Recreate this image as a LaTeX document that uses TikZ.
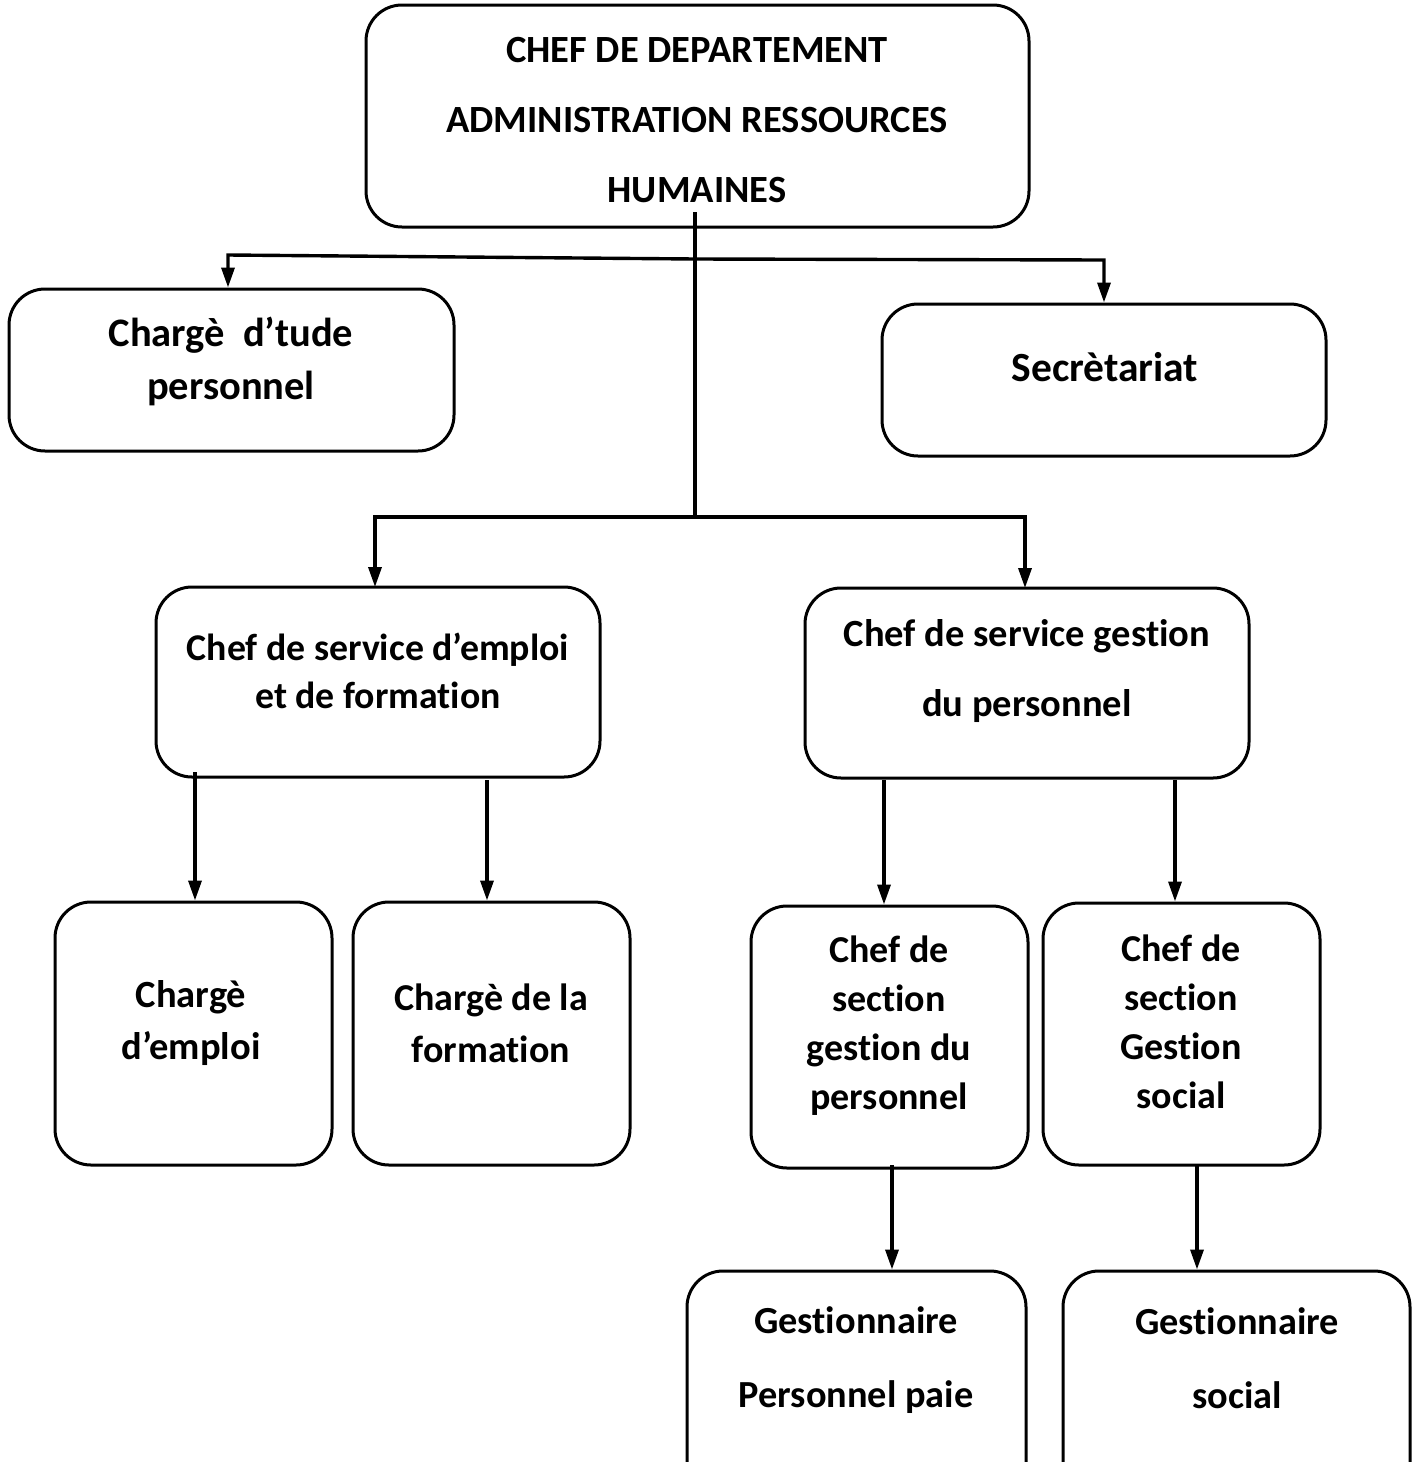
\documentclass[tikz,border=0pt]{standalone}
\usepackage{fontspec}
\setmainfont{Carlito}[Ligatures=NoCommon]
\usetikzlibrary{arrows.meta}
\begin{document}
\begin{tikzpicture}[x=1pt,y=-1pt,
  box/.style={draw,line width=3pt,rounded corners=36pt,inner sep=0pt},
  txt/.style={align=center,font=\bfseries,inner sep=0pt},
  line/.style={line width=3.4pt},
  arr/.style={line width=3.4pt,-{Triangle[width=13pt,length=20pt]}}]
\clip (0,0) rectangle (1421,1462);
\fill[white] (0,0) rectangle (1421,1462);
% boxes
\node[box,minimum width=663pt,minimum height=222pt] (top) at (697.5,116) {};
\node[box,minimum width=445pt,minimum height=162pt] (cet) at (231.5,370) {};
\node[box,minimum width=444pt,minimum height=152pt] (sec) at (1104,380) {};
\node[box,minimum width=444pt,minimum height=190pt] (emp) at (378,682) {};
\node[box,minimum width=444pt,minimum height=190pt] (gst) at (1027,683) {};
\node[box,minimum width=277pt,minimum height=263pt] (ce) at (193.5,1033.5) {};
\node[box,minimum width=277pt,minimum height=263pt] (cf) at (491.5,1033.5) {};
\node[box,minimum width=277pt,minimum height=262pt] (s1) at (889.5,1037) {};
\node[box,minimum width=277pt,minimum height=262pt] (s2) at (1181.5,1034) {};
\node[box,minimum width=339pt,minimum height=240pt] (gp) at (856.5,1391) {};
\node[box,minimum width=347pt,minimum height=240pt] (gs) at (1236.5,1391) {};
% texts
\node[txt,font=\bfseries\fontsize{38.5}{70}\selectfont] (topt) at (697,120) {CHEF DE DEPARTEMENT\\ADMINISTRATION RESSOURCES\\HUMAINES};
\node[txt,font=\bfseries\fontsize{40.5}{53}\selectfont] (cett) at (231,361) {Chargè\ \ d’tude\\personnel};
\node[txt,font=\bfseries\fontsize{41.5}{53}\selectfont] (sect) at (1105,367) {Secrètariat};
\node[txt,font=\bfseries\fontsize{37.8}{48}\selectfont] (empt) at (378,671) {Chef de service d’emploi\\et de formation};
\node[txt,font=\bfseries\fontsize{38.5}{70}\selectfont] (gstt) at (1027,671) {Chef de service gestion\\du personnel};
\node[txt,font=\bfseries\fontsize{38.5}{52}\selectfont] (cet2) at (191,1023) {Chargè\\d’emploi};
\node[txt,font=\bfseries\fontsize{38}{52}\selectfont] (cft) at (491,1023) {Chargè de la\\formation};
\node[txt,font=\bfseries\fontsize{38}{49}\selectfont] (s1t) at (889,1026) {Chef de\\section\\gestion du\\personnel};
\node[txt,font=\bfseries\fontsize{38}{49}\selectfont] (s2t) at (1181,1022) {Chef de\\section\\Gestion\\social};
\node[txt,font=\bfseries\fontsize{38.3}{74}\selectfont] (gpt) at (856,1360) {Gestionnaire\\Personnel paie};
\node[txt,font=\bfseries\fontsize{38.3}{74}\selectfont] (gst2) at (1237,1358) {Gestionnaire\\social};
% connectors
\coordinate (stem) at (695,212);
\coordinate (j1) at (695,259);
\coordinate (j2) at (695,517);
\coordinate (l1) at (228,255);
\coordinate (r1) at (1104,260);
\coordinate (a1) at (195,772);
\coordinate (a2) at (487,780);
\coordinate (a3) at (884,780);
\coordinate (a4) at (1175,780);
\coordinate (a5) at (892,1165);
\coordinate (a6) at (1197,1165);
\draw[line] (stem) -- (j2);
\draw[arr] (j1) -- (l1) -- (l1 |- cet.north);
\draw[arr] (j1) -- (r1) -- (sec.north);
\draw[arr] (j2) -| (375,587);
\draw[arr] (j2) -| (1025,588);
\draw[arr] (a1) -- (a1 |- ce.north);
\draw[arr] (a2) -- (a2 |- cf.north);
\draw[arr] (a3) -- (a3 |- s1.north);
\draw[arr] (a4) -- (a4 |- s2.north);
\draw[arr] (a5) -- (a5 |- gp.north);
\draw[arr] (a6) -- (a6 |- gs.north);
\end{tikzpicture}
\end{document}
